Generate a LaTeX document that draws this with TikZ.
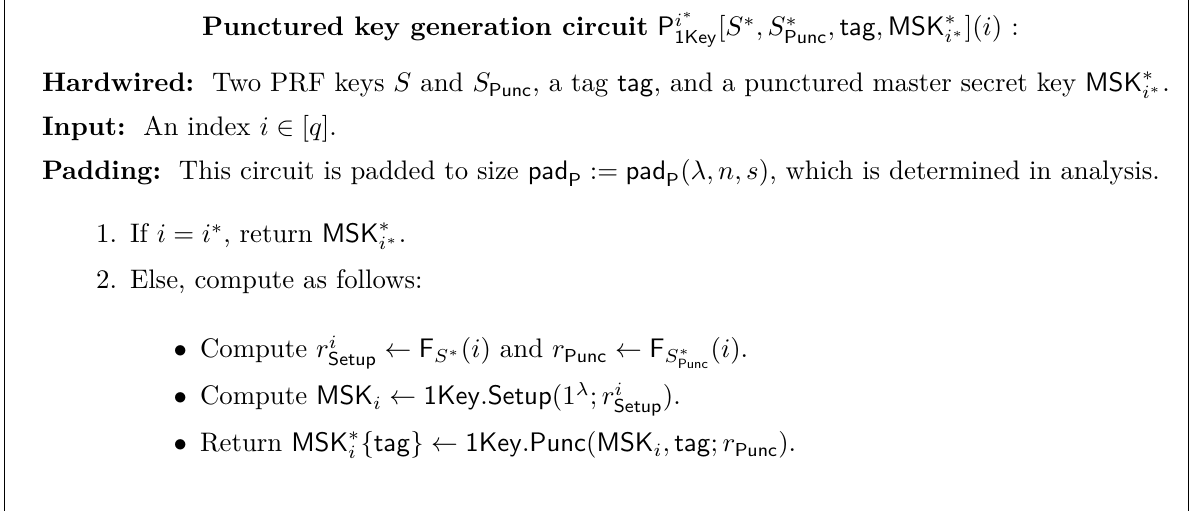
\documentclass[tikz,border=0pt]{standalone}
\usepackage{amsmath,amssymb}
\tikzset{
  txtline/.style={anchor=base west, inner sep=0pt, outer sep=0pt},
  lbl/.style={anchor=base east, inner sep=0pt, outer sep=0pt},
  frameline/.style={line width=0.55pt, black}
}
\begin{document}
\begin{tikzpicture}[x=0.37313pt,y=-0.37313pt]
\useasboundingbox (0,0) rectangle (1192,511);
\coordinate (tl) at (4.5,0);
\coordinate (bl) at (4.5,511);
\coordinate (tr) at (1188.5,0);
\coordinate (br) at (1188.5,511);
\draw[frameline] (tl) -- (bl);
\draw[frameline] (tr) -- (br);
\node[txtline] (title) at (202,36) {\textbf{Punctured key generation circuit} $\mathsf{P}^{i^*}_{\mathsf{1Key}}[S^*, S^*_{\mathsf{Punc}}, \mathsf{tag}, \mathsf{MSK}^*_{i^*}](i)$ :};
\node[txtline] (hw) at (42,92) {\textbf{Hardwired:}\ \ Two PRF keys $S$ and $S_{\mathsf{Punc}}$, a tag $\mathsf{tag}$, and a punctured master secret key $\mathsf{MSK}^*_{i^*}$.};
\node[txtline] (in) at (42,136) {\textbf{Input:}\ \ An index $i \in [q]$.};
\node[txtline] (pad) at (42,180) {\textbf{Padding:}\ \ This circuit is padded to size $\mathsf{pad}_{\mathsf{P}} := \mathsf{pad}_{\mathsf{P}}(\lambda, n, s)$, which is determined in analysis.};
\node[lbl] (n1) at (117,243) {1.};
\node[txtline] (i1) at (130,243) {If $i = i^*$, return $\mathsf{MSK}^*_{i^*}$.};
\node[lbl] (n2) at (117,289) {2.};
\node[txtline] (i2) at (130,289) {Else, compute as follows:};
\node[lbl] (b1) at (187,358) {$\bullet$};
\node[txtline] (t1) at (200,358) {Compute $r^i_{\mathsf{Setup}} \leftarrow \mathsf{F}_{S^*}(i)$ and $r_{\mathsf{Punc}} \leftarrow \mathsf{F}_{S^*_{\mathsf{Punc}}}(i)$.};
\node[lbl] (b2) at (187,405) {$\bullet$};
\node[txtline] (t2) at (200,405) {Compute $\mathsf{MSK}_i \leftarrow \mathsf{1Key.Setup}(1^\lambda; r^i_{\mathsf{Setup}})$.};
\node[lbl] (b3) at (187,452) {$\bullet$};
\node[txtline] (t3) at (200,452) {Return $\mathsf{MSK}^*_i\{\mathsf{tag}\} \leftarrow \mathsf{1Key.Punc}(\mathsf{MSK}_i, \mathsf{tag}; r_{\mathsf{Punc}})$.};
\end{tikzpicture}
\end{document}
